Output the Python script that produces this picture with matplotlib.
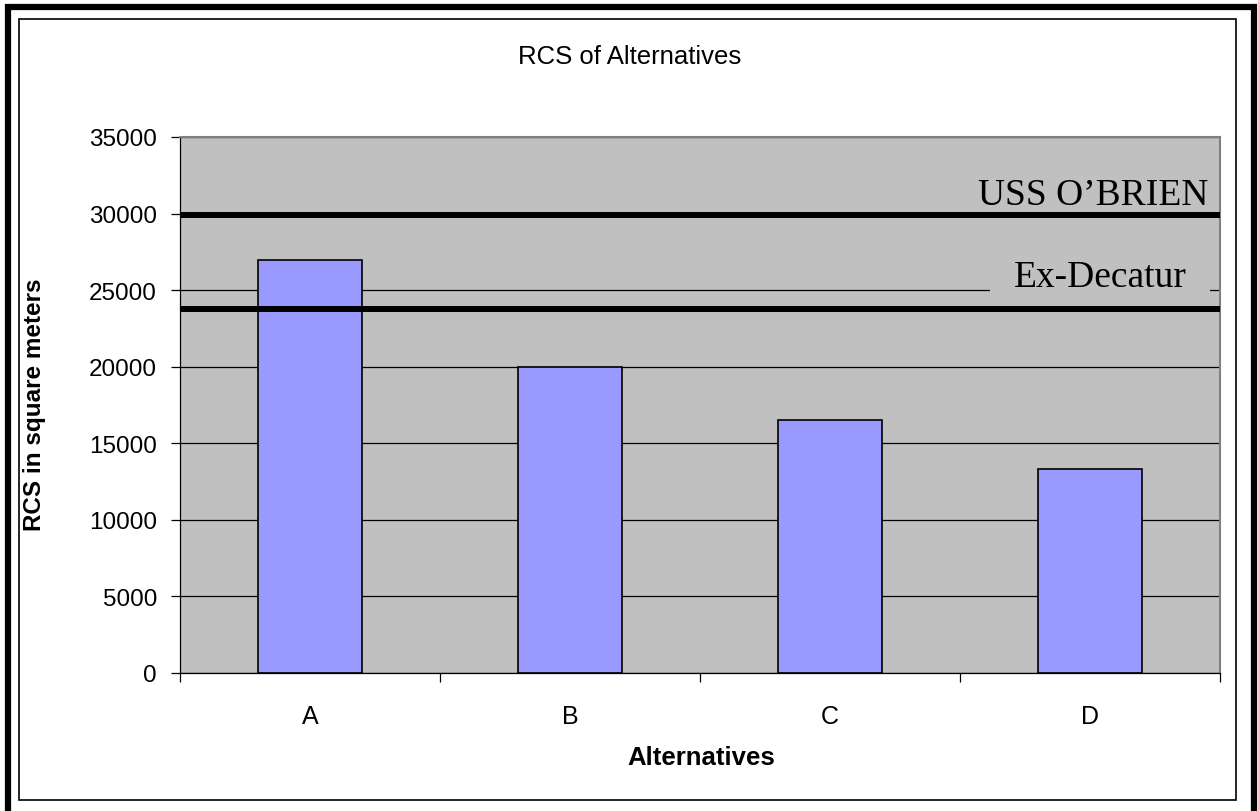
import matplotlib
matplotlib.use("Agg")
import matplotlib.pyplot as plt
import numpy as np
from matplotlib.patches import Rectangle

# data
alternatives = ["A", "B", "C", "D"]
rcs_values = [27000, 20000, 16500, 13350]
ref_names = ["USS O\u2019BRIEN", "Ex-Decatur"]
ref_values = [29900, 23750]

BAR = "#9999FF"
PLOT_BG = "#C0C0C0"
BORDER_GREY = "#808080"
SANS = "Liberation Sans"
SERIF = "Liberation Serif"

W, H, DPI = 1258, 812, 100
fig = plt.figure(figsize=(W / DPI, H / DPI), dpi=DPI, facecolor="white")
ax = fig.add_axes([180 / W, (H - 674) / H, 1040 / W, 536 / H])
ax.set_facecolor(PLOT_BG)

x = np.arange(len(alternatives))
ax.bar(x, rcs_values, width=0.4, color=BAR, edgecolor="black",
       linewidth=1.2, zorder=2)

for name, val, xr, dy, boxed in zip(ref_names, ref_values,
                                    [0.9885, 0.968], [8, 16.5], [False, True]):
    ax.axhline(val, color="black", linewidth=4.3, zorder=4)
    t = ax.annotate(name, xy=(xr, val), xycoords=("axes fraction", "data"),
                    xytext=(0, dy), textcoords="offset points",
                    ha="right", va="baseline", family=SERIF, fontsize=27,
                    zorder=3)
    if boxed:
        t.set_bbox(dict(facecolor=PLOT_BG, edgecolor="none", pad=17))

ax.set_ylim(0, 35000)
ax.set_xlim(-0.5, len(alternatives) - 0.5)
ax.set_yticks(np.arange(0, 35001, 5000))
ax.yaxis.grid(True, color="black", linewidth=0.9, zorder=1)
ax.set_axisbelow(True)

ax.set_xticks(np.arange(-0.5, len(alternatives)), labels=[])
ax.set_xticks(x, labels=alternatives, minor=True)
ax.tick_params(axis="x", which="major", direction="out", length=6.5, width=0.9)
ax.tick_params(axis="x", which="minor", length=0, pad=22.5, labelsize=18)
ax.tick_params(axis="y", direction="out", length=6.5, width=0.9, pad=10,
               labelsize=17.5)
for lab in ax.get_xticklabels(minor=True) + ax.get_yticklabels():
    lab.set_family(SANS)

for side in ("left", "bottom"):
    ax.spines[side].set_color("black")
    ax.spines[side].set_linewidth(0.9)
for side in ("top", "right"):
    ax.spines[side].set_color(BORDER_GREY)
    ax.spines[side].set_linewidth(1.5)

fig.text(630 / W, 1 - 57 / H, "RCS of Alternatives", ha="center", va="center",
         family=SANS, fontsize=18.5)
fig.text(701 / W, 1 - 758 / H, "Alternatives", ha="center", va="center",
         family=SANS, fontsize=18.5, fontweight="bold")
fig.text(35 / W, 1 - 405 / H, "RCS in square meters", ha="center", va="center",
         rotation=90, family=SANS, fontsize=17.5, fontweight="bold")

# frames round the whole chart
fig.patches.append(Rectangle((8 / W, -10 / H), 1246 / W, 814 / H,
                             transform=fig.transFigure, fill=False,
                             edgecolor="black", linewidth=4.5))
fig.patches.append(Rectangle((19 / W, (H - 801) / H), 1217 / W, 781 / H,
                             transform=fig.transFigure, fill=False,
                             edgecolor="black", linewidth=1.2))

fig.savefig("out.png", dpi=DPI, facecolor="white")
